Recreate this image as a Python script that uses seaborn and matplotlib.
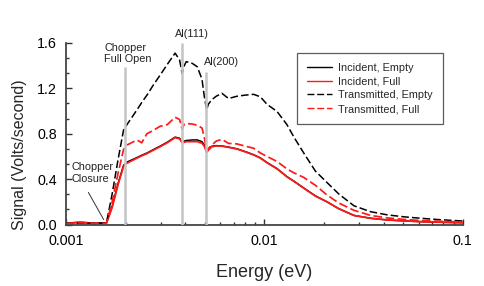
import numpy as np
import pandas as pd
import matplotlib
matplotlib.use("Agg")
import matplotlib.pyplot as plt
import matplotlib.ticker as mticker
import seaborn as sns

# energy grid (eV)
energy = [0.0010, 0.00118, 0.0014, 0.0016, 0.00171, 0.00183, 0.00195, 0.00203,
          0.00228, 0.00241, 0.00256, 0.00276, 0.00298, 0.00324, 0.00355, 0.00374,
          0.00385, 0.00395, 0.00404, 0.00433, 0.00459, 0.00485, 0.00498, 0.00512,
          0.00522, 0.00544, 0.00572, 0.00611, 0.0066, 0.00728, 0.00802, 0.00883,
          0.00955, 0.0103, 0.0116, 0.013, 0.0141, 0.0158, 0.0181, 0.0207,
          0.0237, 0.0283, 0.0343, 0.0417, 0.0504, 0.0614, 0.0774, 0.1]

incident_empty = [0.012, 0.02, 0.012, 0.014, 0.16, 0.36, 0.52, 0.55,
                  0.59, 0.61, 0.63, 0.66, 0.69, 0.725, 0.77, 0.76,
                  0.725, 0.735, 0.74, 0.745, 0.745, 0.73, 0.70, 0.64,
                  0.66, 0.69, 0.695, 0.692, 0.682, 0.667, 0.642, 0.615,
                  0.587, 0.547, 0.492, 0.422, 0.382, 0.322, 0.252, 0.2,
                  0.14, 0.08, 0.055, 0.04, 0.032, 0.025, 0.02, 0.016]
incident_full = [0.01, 0.02, 0.01, 0.012, 0.15, 0.35, 0.51, 0.54,
                 0.585, 0.605, 0.625, 0.655, 0.685, 0.72, 0.765, 0.755,
                 0.72, 0.725, 0.73, 0.73, 0.73, 0.715, 0.69, 0.635,
                 0.655, 0.685, 0.692, 0.69, 0.68, 0.665, 0.64, 0.613,
                 0.585, 0.545, 0.49, 0.42, 0.38, 0.32, 0.25, 0.2,
                 0.14, 0.08, 0.055, 0.04, 0.032, 0.025, 0.02, 0.016]
transmitted_empty = [0.01, 0.012, 0.01, 0.015, 0.27, 0.57, 0.83, 0.88,
                     1.01, 1.075, 1.14, 1.23, 1.315, 1.41, 1.51, 1.45,
                     1.33, 1.40, 1.435, 1.42, 1.39, 1.28, 1.13, 1.01,
                     1.06, 1.10, 1.13, 1.156, 1.11, 1.13, 1.14, 1.147,
                     1.125, 1.06, 0.995, 0.88, 0.77, 0.63, 0.47, 0.37,
                     0.27, 0.165, 0.113, 0.085, 0.068, 0.055, 0.042, 0.031]
transmitted_full = [0.01, 0.015, 0.01, 0.012, 0.2, 0.45, 0.66, 0.70,
                    0.745, 0.72, 0.80, 0.83, 0.865, 0.88, 0.945, 0.925,
                    0.84, 0.885, 0.89, 0.885, 0.875, 0.85, 0.77, 0.645,
                    0.67, 0.70, 0.735, 0.75, 0.715, 0.71, 0.69, 0.672,
                    0.63, 0.60, 0.555, 0.49, 0.455, 0.415, 0.345, 0.26,
                    0.19, 0.125, 0.08, 0.058, 0.045, 0.035, 0.028, 0.022]

series_names = ["Incident, Empty", "Incident, Full", "Transmitted, Empty", "Transmitted, Full"]
series_colors = ["black", "#ff1a1a", "black", "#ff1a1a"]

# marker lines: energy and height of each grey line
marker_energy = [0.00199, 0.00384, 0.00509]
marker_top = [1.39, 1.6, 1.34]

df = pd.concat([
    pd.DataFrame({"energy": energy, "signal": vals, "series": name})
    for name, vals in zip(series_names, [incident_empty, incident_full,
                                         transmitted_empty, transmitted_full])
])

sns.set_style("ticks")
plt.rcParams["font.family"] = ["Liberation Sans", "DejaVu Sans"]

fig = plt.figure(figsize=(4.85, 2.86), dpi=100)
ax = fig.add_axes([0.136, 0.215, 0.818, 0.635])

sns.lineplot(data=df, x="energy", y="signal", hue="series", style="series",
             hue_order=series_names, style_order=series_names,
             palette=dict(zip(series_names, series_colors)),
             dashes={"Incident, Empty": "", "Incident, Full": "",
                     "Transmitted, Empty": (5, 2), "Transmitted, Full": (5, 2)},
             estimator=None, sort=False, linewidth=1.1, ax=ax)

for line in ax.get_lines():
    if line.get_color() == "#ff1a1a":
        line.set_linewidth(1.25)

ax.vlines(marker_energy, 0, marker_top, colors="#c4c4c4", linewidth=1.8, zorder=5)

ax.set_xscale("log")
ax.set_xlim(0.001, 0.1)
ax.set_ylim(0, 1.6)
ax.set_yticks([0.0, 0.4, 0.8, 1.2, 1.6])
ax.yaxis.set_major_formatter(mticker.FormatStrFormatter("%.1f"))
ax.yaxis.set_minor_locator(mticker.AutoMinorLocator(3))
ax.set_xticks([0.001, 0.01, 0.1])
ax.set_xticklabels(["0.001", "0.01", "0.1"])
ax.xaxis.set_minor_locator(mticker.LogLocator(base=10, subs=np.arange(2, 10)))
ax.xaxis.set_minor_formatter(mticker.NullFormatter())

ax.tick_params(which="both", direction="in", colors="#333333", labelcolor="black",
               labelsize=10.3, width=1)
ax.tick_params(which="major", length=4, pad=6.5)
ax.tick_params(which="minor", length=2.5)
sns.despine(ax=ax)
for s in ("left", "bottom"):
    ax.spines[s].set_color("#444444")
    ax.spines[s].set_linewidth(1.3)

ax.set_xlabel("Energy (eV)", fontsize=13, va="center")
ax.xaxis.set_label_coords(0.5, -0.262)
ax.set_ylabel("Signal (Volts/second)", fontsize=11.5, va="center")
ax.yaxis.set_label_coords(-0.117, 0.385)

ann = dict(fontsize=7.8, color="#222222")
ax.text(0.001556, 1.6, "Chopper\nFull Open", ha="left", va="top", linespacing=1.2, **ann)
ax.text(0.00433, 1.63, "Al(111)", ha="center", va="bottom", **ann)
ax.text(0.00607, 1.43, "Al(200)", ha="center", va="center", **ann)
ax.text(0.00107, 0.55, "Chopper\nClosure", ha="left", va="top", linespacing=1.2, **ann)
ax.annotate("", xy=(0.001574, 0.022), xytext=(0.001277, 0.304),
            arrowprops=dict(arrowstyle="-", color="#333333", lw=0.7))

leg = ax.legend(loc="upper right", bbox_to_anchor=(0.95, 0.945), fontsize=7.8,
                frameon=True, fancybox=False, handlelength=2.3, borderpad=0.9,
                labelspacing=0.35, handletextpad=0.6, borderaxespad=0)
leg.get_frame().set_edgecolor("#333333")
leg.get_frame().set_linewidth(0.9)
for h in leg.get_lines():
    h.set_linewidth(1.0)

fig.savefig("out.png", dpi=100)
